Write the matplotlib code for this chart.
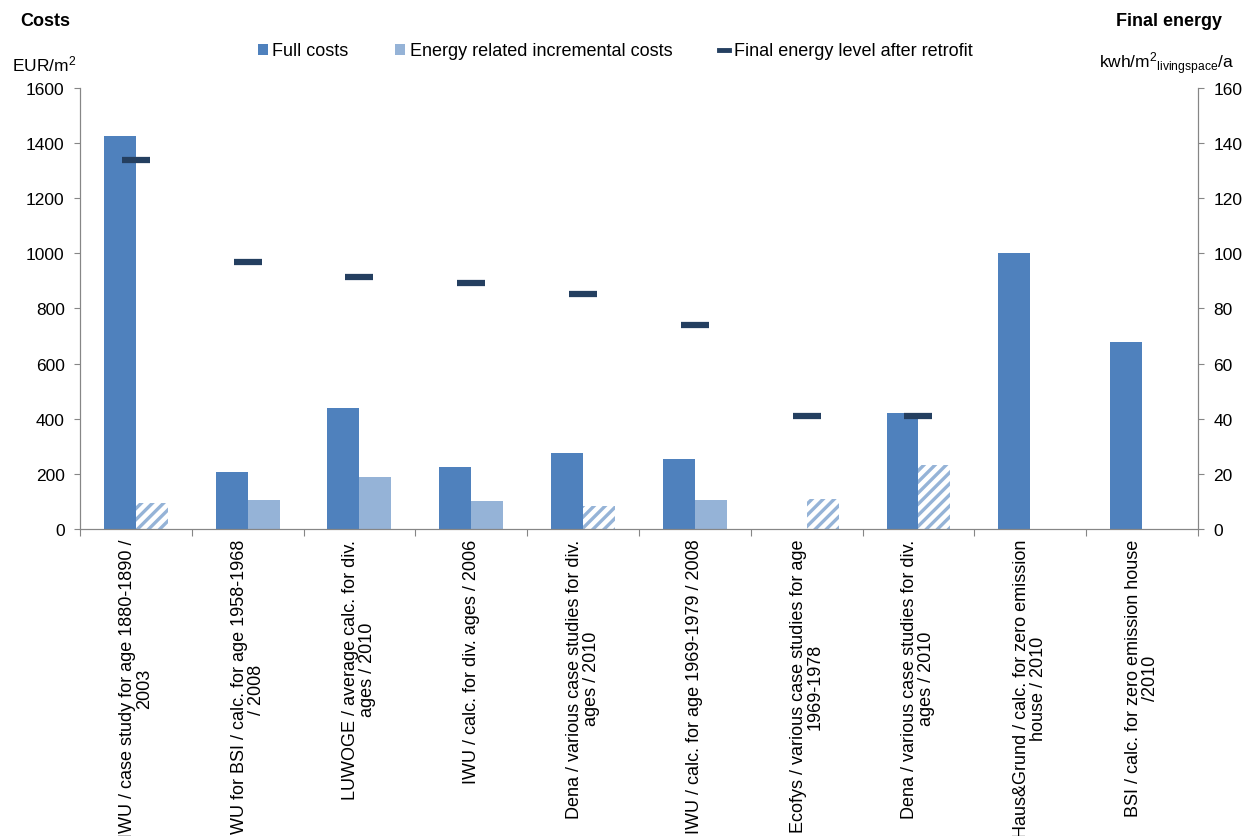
import numpy as np
import matplotlib
matplotlib.use("Agg")
import matplotlib.pyplot as plt
from matplotlib.patches import Patch
from matplotlib.lines import Line2D

plt.rcParams['font.family'] = ['Liberation Sans', 'DejaVu Sans']
plt.rcParams['hatch.linewidth'] = 2.4

# data
studies = [
    "IWU / case study for age 1880-1890 /\n2003",
    "IWU for BSI / calc. for age 1958-1968\n/ 2008",
    "LUWOGE / average calc. for div.\nages / 2010",
    "IWU / calc. for div. ages / 2006",
    "Dena / various case studies for div.\nages / 2010",
    "IWU / calc. for age 1969-1979 / 2008",
    "Ecofys / various case studies for age\n1969-1978",
    "Dena / various case studies for div.\nages / 2010",
    "Haus&Grund / calc. for zero emission\nhouse / 2010",
    "BSI / calc. for zero emission house\n/2010",
]
full_costs = [1425, 208, 440, 226, 276, 254, 0, 421, 1000, 680]
incremental_costs = [93, 104, 187, 100, 83, 105, 108, 232, 0, 0]
# incremental cost bars drawn hatched in the source
estimated = [True, False, False, False, True, False, True, True, False, False]
final_energy = [134, 97, 91.3, 89.2, 85.3, 74.1, 41, 41, np.nan, np.nan]

c_full = '#4F81BD'
c_incr = '#95B3D7'
c_energy = '#243F60'
c_axis = '#868686'

fig = plt.figure(figsize=(12.53, 8.37), dpi=100)
ax = fig.add_axes([0.0638, 0.3668, 0.8923, 0.5269])
ax2 = ax.twinx()

x = np.arange(len(studies))
w = 0.286

ax.bar(x - w / 2, full_costs, w, color=c_full, linewidth=0)
for xi, val, est in zip(x, incremental_costs, estimated):
    if est:
        ax.bar(xi + w / 2, val, w, facecolor='white', edgecolor=c_incr,
               linewidth=0, hatch='///')
    else:
        ax.bar(xi + w / 2, val, w, color=c_incr, linewidth=0)

ax2.plot(x, final_energy, linestyle='none', marker='_', ms=19.5, mew=4.5,
         color=c_energy)

ax.set_xlim(-0.5, len(studies) - 0.5)
ax.set_ylim(0, 1600)
ax2.set_ylim(0, 160)
ax.set_yticks(np.arange(0, 1601, 200))
ax2.set_yticks(np.arange(0, 161, 20))

# category boundaries carry the tick marks, labels sit in the middle
ax.set_xticks(np.arange(-0.5, len(studies)), labels=[])
ax.set_xticks(x, labels=studies, minor=True, rotation=90, ha='center',
              va='top', multialignment='center', linespacing=1.0)
ax.tick_params(axis='x', which='minor', length=0, pad=7, labelsize=13)
ax.tick_params(axis='x', which='major', length=5, color=c_axis)
ax.tick_params(axis='y', length=4, color=c_axis, labelsize=12.5, pad=7)
ax2.tick_params(axis='y', length=4, color=c_axis, labelsize=12.5, pad=7)

for a in (ax, ax2):
    a.spines['top'].set_visible(False)
    for s in ('left', 'right', 'bottom'):
        a.spines[s].set_color(c_axis)

fig.text(20 / 1253, 1 - 22 / 837, "Costs", fontsize=13, fontweight='bold',
         ha='left', va='center')
fig.text(1222 / 1253, 1 - 22 / 837, "Final energy", fontsize=13,
         fontweight='bold', ha='right', va='center')
fig.text(12 / 1253, 1 - 64 / 837, r"EUR/m$\mathregular{^2}$", fontsize=12.5,
         ha='left', va='center')
fig.text(1234 / 1253, 1 - 64 / 837,
         r"kwh/m$\mathregular{^2}$$\mathregular{_{livingspace}}$/a",
         fontsize=12.5, ha='right', va='center')

handles = [
    Patch(facecolor=c_full, edgecolor='none'),
    Patch(facecolor=c_incr, edgecolor='none'),
    Line2D([], [], color=c_energy, lw=3.5),
]
fig.legend(handles, ["Full costs", "Energy related incremental costs",
                     "Final energy level after retrofit"],
           loc='center', bbox_to_anchor=(0.491, 1 - 52 / 837), ncol=3,
           frameon=False, fontsize=13, handlelength=0.55, handleheight=0.55,
           handletextpad=0.25, columnspacing=2.6)

fig.savefig("out.png", dpi=100)
